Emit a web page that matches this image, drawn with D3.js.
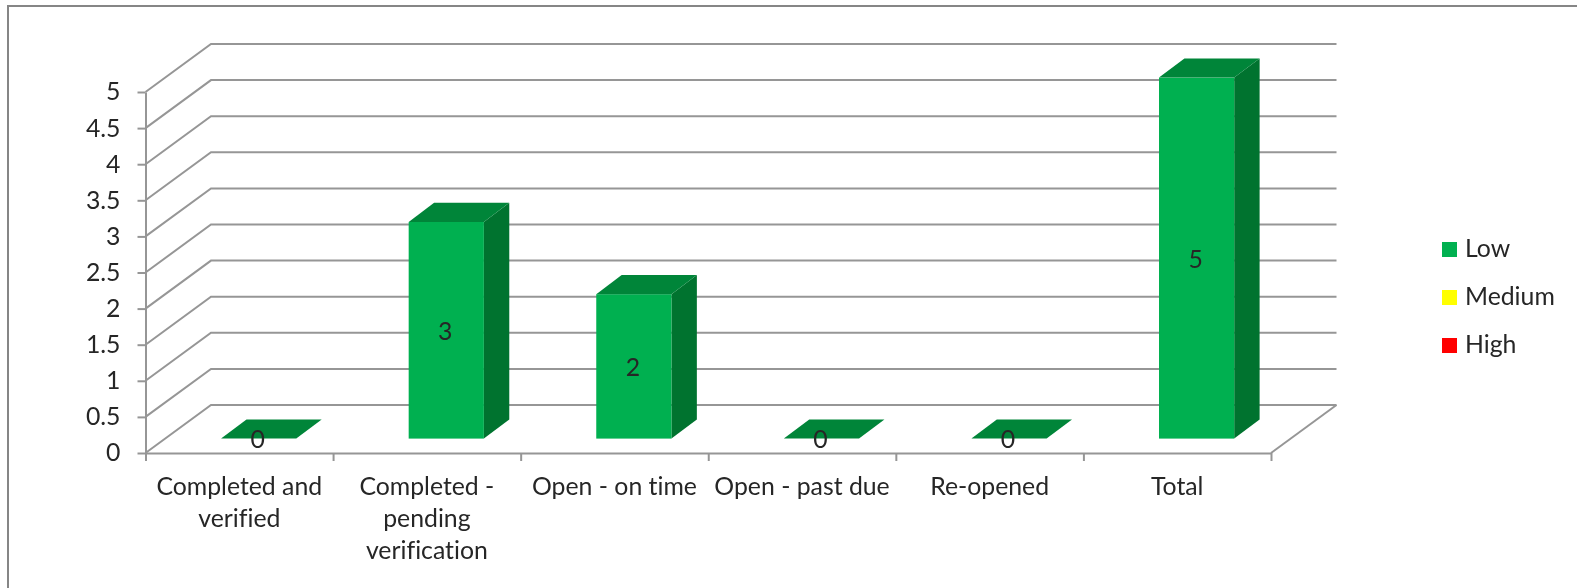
<!DOCTYPE html>
<html>
    <head>
        <title>Status by priority</title>
        <script type="text/javascript" src="https://cdn.jsdelivr.net/npm/d3@7"></script>
        <style>
            html, body{
                margin: 0;
                background: white;
                overflow: hidden;
            }
            svg{
                display: block;
                filter: blur(0.5px);
            }
            text{
                font-family: Lato, "Open Sans", sans-serif;
                font-size: 24.8px;
                font-variant-ligatures: none;
                fill: #262626;
            }
            .line{
                stroke: #969696;
                stroke-width: 2px;
                fill: none;
            }
            .domain, .tick line{
                stroke: #969696;
                stroke-width: 2px;
            }
        </style>
    </head>
    <body>
        <script type="text/javascript">
            // Data
            let categories = [
                ["Completed and", "verified"],
                ["Completed -", "pending", "verification"],
                ["Open - on time"],
                ["Open - past due"],
                ["Re-opened"],
                ["Total"]
            ]
            let lowValues = [0, 3, 2, 0, 0, 5]
            let yTicks = [0, 0.5, 1, 1.5, 2, 2.5, 3, 3.5, 4, 4.5, 5]
            let legendNames = ["Low", "Medium", "High"]
            let legendColors = ["#00B050", "#FFFF00", "#FF0000"]

            let w = 1577
            let h = 588
            let left = 145.5
            let right = 1271
            let bottom = 453
            let top_ = 92
            // depth of the box and of the bars
            let depthX = 65.5
            let depthY = 48
            let barDepthX = 25.4
            let barDepthY = 19.2
            let barOffsetX = 19.4
            let barOffsetY = 14.4

            let svg = d3.select("body")
                        .append("svg")
                        .attr("height",h)
                        .attr("width",w)

            // Frame, open on the right and the bottom
            svg.append("path")
                .attr("d",d3.line()([[8,h],[8,6],[w,6]]))
                .attr("fill","none")
                .attr("stroke","#868686")
                .attr("stroke-width",2)

            let xScale = d3.scaleBand()
                            .domain(categories.map((d,i)=>i))
                            .range([left,right])
            let yScale = d3.scaleLinear()
                            .domain([0,5])
                            .range([bottom,top_])

            // Walls
            let line = d3.line()
            svg.selectAll(".grid")
                .data(yTicks)
                .enter()
                .append("path")
                .attr("class","line grid")
                .attr("d",d=>line([
                    [left,yScale(d)],
                    [left+depthX,yScale(d)-depthY],
                    [right+depthX,yScale(d)-depthY]
                ]))
            svg.append("path")
                .attr("class","line")
                .attr("d",line([
                    [right,bottom],
                    [right+depthX,bottom-depthY]
                ]))

            // Axes
            let yAxis = d3.axisLeft()
                            .scale(yScale)
                            .tickValues(yTicks)
                            .tickFormat(d=>String(d))
                            .tickSize(8)
                            .tickSizeOuter(0)
                            .tickPadding(17)
            let xEdges = d3.axisBottom()
                            .scale(d3.scaleLinear().domain([0,categories.length]).range([left,right]))
                            .ticks(categories.length)
                            .tickFormat("")
                            .tickSize(8)
                            .tickSizeOuter(0)
            svg.append("g")
                .attr("transform","translate("+left+",0)")
                .call(yAxis)
                .selectAll("text")
                .style("font-size","24.8px")
                .style("font-family","Lato")
            svg.append("g")
                .attr("transform","translate(0,"+bottom+")")
                .call(xEdges)

            // Category labels, one tspan per line
            let catLabels = svg.selectAll(".cat")
                .data(categories)
                .enter()
                .append("text")
                .attr("class","cat")
                .attr("text-anchor","middle")
                .attr("y",495)
            catLabels.selectAll("tspan")
                .data((d,i)=>d.map(s=>({s:s,i:i})))
                .enter()
                .append("tspan")
                .attr("x",d=>xScale(d.i)+xScale.bandwidth()/2)
                .attr("dy",(d,j)=>j==0?0:32)
                .text(d=>d.s)

            // Bars
            let barWidth = 75.2
            let barX = i=>xScale(i)+xScale.bandwidth()/2+barOffsetX-barWidth/2
            let barY = v=>yScale(v)-barOffsetY
            svg.selectAll(".bar")
                .data(lowValues)
                .enter()
                .append("g")
                .attr("class","bar")
                .each(function(d,i){
                    let g = d3.select(this)
                    let x0 = barX(i)
                    let x1 = x0+barWidth
                    let yT = barY(d)
                    let yB = barY(0)
                    if (d>0){
                        g.append("path")
                            .attr("fill","#00732F")
                            .attr("d",line([[x1,yT],[x1+barDepthX,yT-barDepthY],[x1+barDepthX,yB-barDepthY],[x1,yB]])+"Z")
                        g.append("rect")
                            .attr("x",x0)
                            .attr("y",yT)
                            .attr("width",barWidth)
                            .attr("height",yB-yT)
                            .attr("fill","#00B050")
                    }
                    g.append("path")
                        .attr("fill","#008539")
                        .attr("d",line([[x0,yT],[x0+barDepthX,yT-barDepthY],[x1+barDepthX,yT-barDepthY],[x1,yT]])+"Z")
                })

            // Value labels
            svg.selectAll(".val")
                .data(lowValues)
                .enter()
                .append("text")
                .attr("class","val")
                .attr("text-anchor","middle")
                .attr("dominant-baseline","central")
                .attr("x",(d,i)=>barX(i)+barWidth/2-1)
                .attr("y",d=>(barY(d)+barY(0))/2)
                .text(d=>d)

            // Legend
            let legend = svg.selectAll(".legend")
                .data(legendNames)
                .enter()
                .append("g")
                .attr("class","legend")
                .attr("transform",(d,i)=>"translate(1442,"+(242+i*48)+")")
            legend.append("rect")
                .attr("width",15)
                .attr("height",15)
                .attr("fill",(d,i)=>legendColors[i])
            legend.append("text")
                .attr("x",23)
                .attr("y",15)
                .text(d=>d)
        </script>
    </body>
</html>
